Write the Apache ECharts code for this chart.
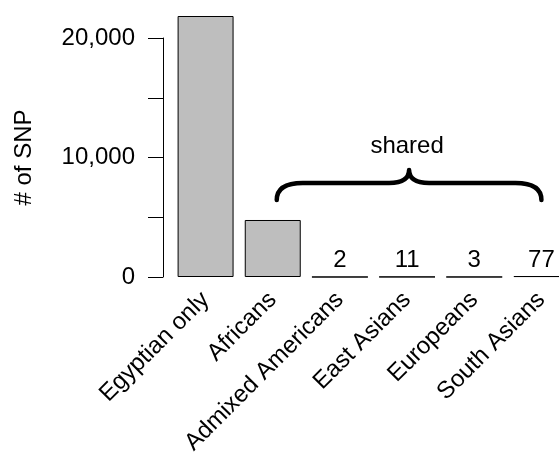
<!DOCTYPE html>
<html>
<head>
<meta charset="utf-8">
<script src="https://cdn.jsdelivr.net/npm/echarts@6/dist/echarts.min.js"></script>
<style>
  html, body { margin: 0; padding: 0; background: #fff; }
  #chart { width: 559px; height: 454px; }
</style>
</head>
<body>
<div id="chart"></div>
<script>
// SNP counts: private to Egyptians vs. shared with each population
const categories = ['Egyptian only', 'Africans', 'Admixed Americans', 'East Asians', 'Europeans', 'South Asians'];
const snpCounts = [21840, 4770, 2, 11, 3, 77];
// Bars whose count is printed above them
const labelled = [false, false, true, true, true, true];
const yTickValues = [0, 5000, 10000, 15000, 20000];
const yTickLabels = ['0', '', '10,000', '', '20,000'];

// Curly brace grouping the "shared" bars (category index range, value levels)
const braceFrom = 1, braceTo = 5;
const braceTip = 6440, braceBar = 7870, bracePeak = 8950, braceText = 10900;

const FONT = 'Liberation Sans, Arial, Helvetica, sans-serif';
const FS = 24;
const chart = echarts.init(document.getElementById('chart'));

chart.setOption({
  animation: false,
  backgroundColor: '#fff',
  textStyle: { fontFamily: FONT },
  grid: { left: 172, top: 38, width: 403, height: 239, outerBoundsMode: 'none', containLabel: false },
  xAxis: {
    type: 'category',
    data: categories,
    axisLine: { show: false },
    axisTick: { show: false },
    axisLabel: {
      interval: 0, rotate: 45, margin: 19,
      fontSize: FS, color: '#000', fontFamily: FONT
    }
  },
  yAxis: {
    type: 'value',
    min: 0, max: 20000, interval: 5000,
    offset: 9,
    name: '# of SNP',
    nameLocation: 'middle',
    nameGap: 127,
    nameTextStyle: { fontSize: FS, color: '#000', fontFamily: FONT },
    splitLine: { show: false },
    axisLine: { show: true, lineStyle: { color: '#000', width: 1 } },
    axisTick: { show: true, length: 15, lineStyle: { color: '#000', width: 1 } },
    axisLabel: {
      margin: 28, fontSize: FS, color: '#000', fontFamily: FONT,
      formatter: function (v) {
        const i = yTickValues.indexOf(v);
        return i >= 0 ? yTickLabels[i] : '';
      }
    }
  },
  series: [
    {
      type: 'bar',
      clip: false,
      barCategoryGap: '16.67%',
      data: snpCounts.map(function (v, i) {
        return {
          value: v,
          label: {
            show: labelled[i], position: 'top', distance: 4,
            fontSize: FS, color: '#000', fontFamily: FONT
          }
        };
      }),
      itemStyle: { color: '#bebebe', borderColor: '#000', borderWidth: 1 }
    },
    {
      type: 'custom',
      clip: false,
      silent: true,
      data: [[braceFrom, braceTo]],
      renderItem: function (params, api) {
        const l = api.coord([braceFrom, braceTip]);
        const r = api.coord([braceTo, braceTip]);
        const yb = api.coord([braceFrom, braceBar])[1];
        const yp = api.coord([braceFrom, bracePeak])[1];
        const yt = l[1];
        const x1 = l[0] + 4, x2 = r[0], xc = (x1 + x2) / 2;
        const rx = 26, cx = 20;
        const d = [
          'M', x1, yt,
          'Q', x1, yb, x1 + rx, yb,
          'L', xc - cx, yb,
          'Q', xc, yb, xc, yp,
          'Q', xc, yb, xc + cx, yb,
          'L', x2 - rx, yb,
          'Q', x2, yb, x2, yt
        ].join(' ');
        const tp = api.coord([(braceFrom + braceTo) / 2, braceText]);
        return {
          type: 'group',
          children: [
            {
              type: 'path',
              shape: { pathData: d },
              style: { fill: 'none', stroke: '#000', lineWidth: 4.5, lineCap: 'round', lineJoin: 'round' }
            },
            {
              type: 'text',
              x: tp[0], y: tp[1],
              style: {
                text: 'shared', fontSize: FS, fontFamily: FONT, fill: '#000',
                align: 'center', verticalAlign: 'middle'
              }
            }
          ]
        };
      }
    }
  ]
});
</script>
</body>
</html>
